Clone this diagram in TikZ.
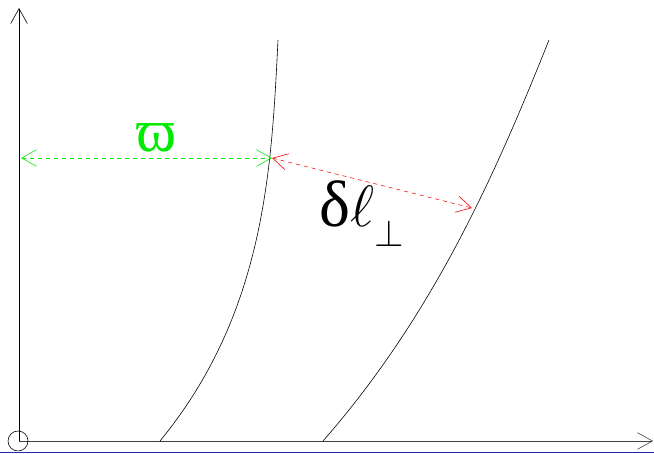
\documentclass[tikz,border=0pt]{standalone}
\usepackage{fontspec}
\usepackage{xcolor}
\usepackage{tikz}
\usetikzlibrary{positioning,arrows.meta}
\newfontfamily\grkfont{Liberation Serif}
\definecolor{brightgreen}{RGB}{0,235,0}
\definecolor{brightred}{RGB}{255,0,0}
\definecolor{baseblue}{RGB}{40,40,170}

\begin{document}
\begin{tikzpicture}[
  x=0.03cm, y=0.03cm,
  vtip/.tip={Straight Barb[length=4.5mm, width=5mm, line width=0.5pt]},
  axis/.style={line width=0.6pt, -vtip},
  curve/.style={line width=0.5pt},
  gap/.style={dash pattern=on 3.4pt off 3.4pt, line width=0.5pt, vtip-vtip},
  lbl/.style={inner sep=0pt, anchor=base west},
]
\useasboundingbox (0,0) rectangle (654,453);
\coordinate (O) at (19,12);
\coordinate (ytop) at (19,445);
\coordinate (xend) at (653,12);
\coordinate (wall) at (21,295);
\coordinate (hitA) at (272,295);
\coordinate (hitB) at (472,245);
\draw[baseblue, line width=0.6pt] (0,1) -- (654,1);
\draw[axis] (O) -- (ytop);
\draw[axis, black!75] (O) -- (xend);
\draw[line width=0.5pt] (18,12) circle (10);
% field lines
\draw[curve] (160,12) .. controls (265,140) and (271.5,283) .. (278,413);
\draw[curve] (323,12) .. controls (435,140) and (497,283) .. (549,413);
% separations
\draw[gap, brightgreen] (wall) -- (hitA);
\draw[gap, brightred] (hitA) -- (hitB);
\node[lbl, brightgreen] (varpi) at (136,301) {\fontsize{52}{52}\selectfont\grkfont ϖ};
\node[lbl] (dperp) at (319,226) {{\fontsize{56}{56}\selectfont\grkfont δ}\scalebox{2}{\Huge$\ell$}\raisebox{-17pt}{\scalebox{1.3}{\Huge$\perp$}}};
\end{tikzpicture}
\end{document}
